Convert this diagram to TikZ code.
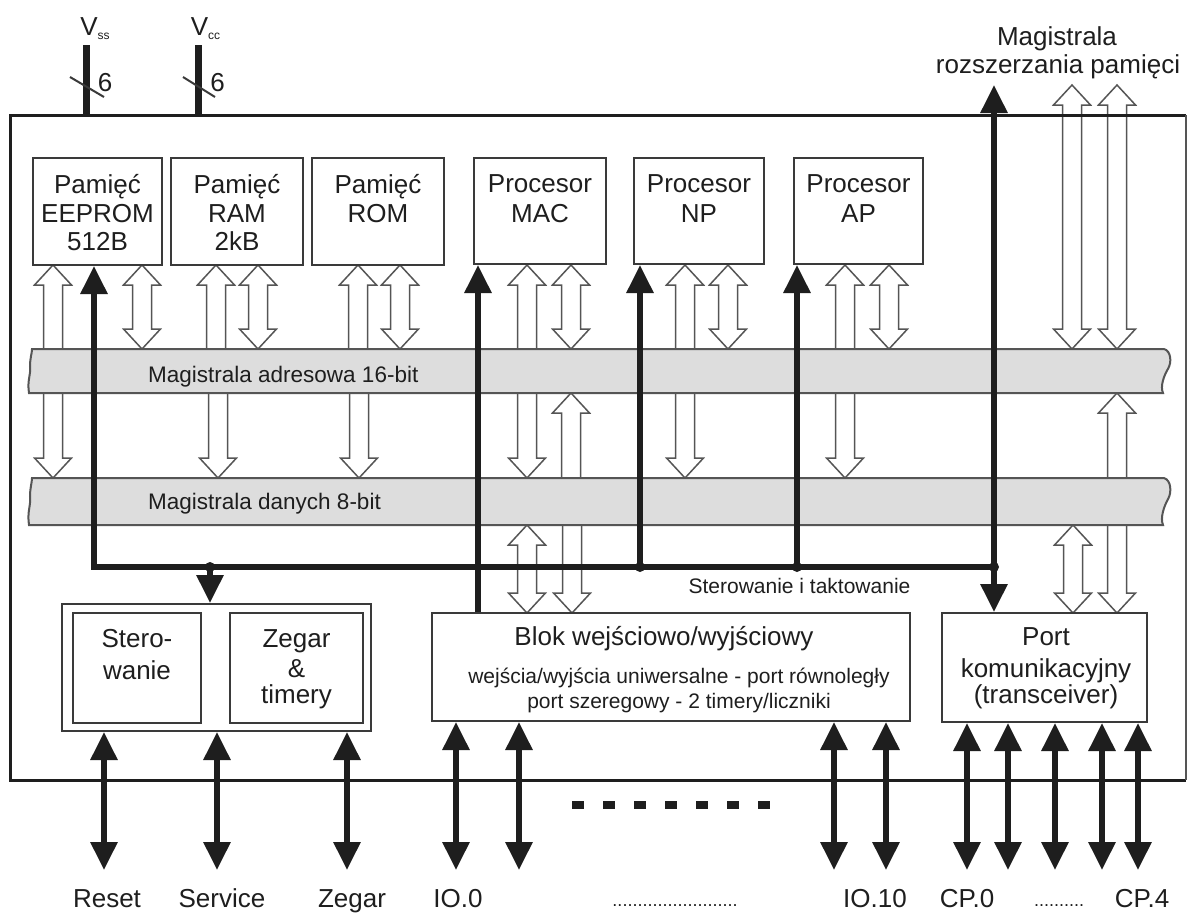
\documentclass[tikz,border=0pt]{standalone}
\usepackage{fontspec}
\setmainfont{Liberation Sans}
\usetikzlibrary{arrows.meta}
\definecolor{ink}{HTML}{1E1E1E}
\definecolor{edge}{HTML}{3A3A3A}
\definecolor{hol}{HTML}{555555}
\definecolor{busfill}{HTML}{DDDDDD}
% hollow double arrow: x, top tip, bottom tip
\newcommand\HD[3]{\draw[hollow] (#1,#2) -- (#1+18.5,#2+20) -- (#1+9.5,#2+20) -- (#1+9.5,#3-20) -- (#1+18.5,#3-20) -- (#1,#3) -- (#1-18.5,#3-20) -- (#1-9.5,#3-20) -- (#1-9.5,#2+20) -- (#1-18.5,#2+20) -- cycle;}
% hollow arrow pointing up: x, top tip, bottom (open end)
\newcommand\HU[3]{\draw[hollow] (#1,#2) -- (#1+18.5,#2+20) -- (#1+9.5,#2+20) -- (#1+9.5,#3) -- (#1-9.5,#3) -- (#1-9.5,#2+20) -- (#1-18.5,#2+20) -- cycle;}
% hollow arrow pointing down: x, top (open end), bottom tip
\newcommand\HN[3]{\draw[hollow] (#1-9.5,#2) -- (#1+9.5,#2) -- (#1+9.5,#3-20) -- (#1+18.5,#3-20) -- (#1,#3) -- (#1-18.5,#3-20) -- (#1-9.5,#3-20) -- cycle;}
% bus band: top, bottom
\newcommand\BUS[2]{\draw[busline] (32,#1) -- (1164,#1) .. controls (1171,#1+2) and (1172,{#1+0.3*(#2-#1)}) .. (1168,{#1+0.45*(#2-#1)}) .. controls (1164,{#1+0.6*(#2-#1)}) and (1160,{#1+0.85*(#2-#1)}) .. (1163,#2) -- (29,#2) .. controls (27,{#2-0.3*(#2-#1)}) and (31,{#1+0.6*(#2-#1)}) .. (30,{#1+0.4*(#2-#1)}) .. controls (30,{#1+0.2*(#2-#1)}) and (32,{#1+0.1*(#2-#1)}) .. (32,#1) -- cycle;}
\begin{document}
\begin{tikzpicture}[x=1pt,y=-1pt,
  box/.style={draw=edge, line width=2pt, fill=white, inner sep=0pt},
  hollow/.style={draw=hol, line width=1.5pt, fill=white, line join=miter},
  busline/.style={draw=hol, line width=2pt, fill=busfill},
  blk/.style={draw=ink, line width=6pt, line join=miter},
  >={Triangle[length=28pt,width=26pt]},
  t26/.style={font=\fontsize{26}{30}\selectfont, text=ink, inner sep=0pt, anchor=base},
  t22/.style={font=\fontsize{22.5}{26}\selectfont, text=ink, inner sep=0pt, anchor=base west},
  t21/.style={font=\fontsize{21}{24}\selectfont, text=ink, inner sep=0pt, anchor=base},
  tdot/.style={font=\fontsize{18}{20}\selectfont, text=ink, inner sep=0pt, anchor=base}]
\fill[white] (0,0) rectangle (1187,914);
\useasboundingbox (0,0) rectangle (1187,914);

% ---------- hollow arrows ----------
% box -> address bus
\HU{53}{265}{356}   \HD{142}{265}{349}
\HU{216}{265}{356}  \HD{258}{265}{349}
\HU{358}{265}{356}  \HD{400}{265}{349}
\HU{527}{265}{356}  \HD{571}{265}{349}
\HU{685}{265}{356}  \HD{728}{265}{349}
\HU{845}{265}{356}  \HD{889}{265}{349}
% memory expansion bus
\HD{1072}{85}{349}  \HD{1117}{85}{349}
% address bus -> data bus
\HN{53}{386}{478}  \HN{218}{386}{478}  \HN{359}{386}{478}
\HN{527}{386}{478} \HN{685}{386}{478}  \HN{845}{386}{478}
\HU{571}{393}{486}
\HD{1117}{393}{613}
% data bus -> I/O block and port
\HD{527}{525}{613}  \HN{572}{518}{613}  \HD{1073}{525}{613}

% ---------- buses ----------
\BUS{349}{393}
\BUS{478}{525}
\node[t22] (abuslbl) at (148,382) {Magistrala adresowa 16-bit};
\node[t22] (dbuslbl) at (148,509) {Magistrala danych 8-bit};

% ---------- blocks ----------
\node[box, minimum width=129, minimum height=107] (eeprom) at (97.5,211.5) {};
\node[box, minimum width=132, minimum height=107] (ram) at (237,211.5) {};
\node[box, minimum width=132, minimum height=107] (rom) at (378,211.5) {};
\node[box, minimum width=132, minimum height=106] (mac) at (540,211) {};
\node[box, minimum width=130, minimum height=106] (np) at (699,211) {};
\node[box, minimum width=129, minimum height=106] (ap) at (858.5,211) {};
\node[box, minimum width=309, minimum height=127] (ctrlblk) at (216.5,667.5) {};
\node[box, minimum width=128, minimum height=110] (stero) at (137,668) {};
\node[box, minimum width=133, minimum height=110] (zegar) at (296.5,668) {};
\node[box, minimum width=478, minimum height=108] (io) at (671,667) {};
\node[box, minimum width=205, minimum height=109] (port) at (1044.5,667.5) {};

% ---------- outer chip border ----------
\draw[draw=ink, line width=3pt] (1186,115) -- (10,115) -- (10,780) -- (1186,780);
\draw[draw=hol, line width=2pt] (1186,115) -- (1186,780);

% ---------- supply pins ----------
\coordinate (vssT) at (86,45);  \coordinate (vssB) at (86,115);
\coordinate (vccT) at (198,45); \coordinate (vccB) at (198,115);
\draw[blk, line width=7pt] (vssT) -- (vssB);
\draw[blk, line width=7pt] (vccT) -- (vccB);
\coordinate (s1a) at (70,77);  \coordinate (s1b) at (104,97);
\coordinate (s2a) at (183,77); \coordinate (s2b) at (215,97);
\draw[draw=edge, line width=2pt] (s1a) -- (s1b);
\draw[draw=edge, line width=2pt] (s2a) -- (s2b);
\node[t26] (vss) at (95,35) {V\raisebox{-4pt}{\fontsize{12}{12}\selectfont ss}};
\node[t26] (vcc) at (205.5,35) {V\raisebox{-4pt}{\fontsize{12}{12}\selectfont cc}};
\node[t26] (n6a) at (105,91) {6};
\node[t26] (n6b) at (217.5,91) {6};

% ---------- control & clock lines ----------
\coordinate (c0) at (94,567);
\coordinate (jS) at (210,567);
\coordinate (jM) at (478,567);
\coordinate (jN) at (640,567);
\coordinate (jA) at (797,567);
\coordinate (jR) at (994,567);
\coordinate (mtop) at (994,85);
\draw[blk,->] (jR) -- (c0) -- (c0 |- eeprom.south);
\draw[blk,->] (jS) -- (jS |- ctrlblk.north);
\draw[blk,->] (jM |- io.north) -- (jM |- mac.south);
\draw[blk,->] (jN) -- (jN |- np.south);
\draw[blk,->] (jA) -- (jA |- ap.south);
\draw[blk,<->] (mtop) -- (jR |- port.north);
\foreach \j in {jS,jN,jA,jR} \fill[ink] (\j) circle (5pt);
\node[t21] (ctrllbl) at (799.5,593) {Sterowanie i taktowanie};

% ---------- external pins ----------
\foreach \n/\x in {bReset/104,bService/217,bZegar/347} {
  \coordinate (\n) at (\x,870);
  \draw[blk,<->] (\n |- ctrlblk.south) -- (\n);
}
\foreach \n/\x in {bIOa/456,bIOb/519,bIOc/834,bIOd/886} {
  \coordinate (\n) at (\x,870);
  \draw[blk,<->] (\n |- io.south) -- (\n);
}
\foreach \n/\x in {bCPa/967,bCPb/1008,bCPc/1055,bCPd/1102,bCPe/1138} {
  \coordinate (\n) at (\x,870);
  \draw[blk,<->] (\n |- port.south) -- (\n);
}
\coordinate (dashL) at (572,805); \coordinate (dashR) at (778,805);
\draw[draw=ink, line width=8pt, dash pattern=on 12pt off 19pt] (dashL) -- (dashR);

% ---------- texts ----------
\node[t26] (e1) at (97.5,193) {Pamięć};
\node[t26] (e2) at (97.5,222) {EEPROM};
\node[t26] (e3) at (97.5,250) {512B};
\node[t26] (r1) at (237,193) {Pamięć};
\node[t26] (r2) at (237,222) {RAM};
\node[t26] (r3) at (237,250) {2kB};
\node[t26] (o1) at (378,193) {Pamięć};
\node[t26] (o2) at (378,222) {ROM};
\node[t26] (m1) at (540,192) {Procesor};
\node[t26] (m2) at (540,222) {MAC};
\node[t26] (p1) at (699,192) {Procesor};
\node[t26] (p2) at (699,222) {NP};
\node[t26] (a1) at (858.5,192) {Procesor};
\node[t26] (a2) at (858.5,222) {AP};
\node[t26] (s1) at (137,647) {Stero-};
\node[t26] (s2) at (137,679) {wanie};
\node[t26] (z1) at (296.5,647) {Zegar};
\node[t26] (z2) at (296.5,677) {\&};
\node[t26] (z3) at (296.5,703) {timery};
\node[t26] (i1) at (664,645) {Blok wejściowo/wyjściowy};
\node[t21] (i2) at (679,683) {wejścia/wyjścia uniwersalne - port równoległy};
\node[t21] (i3) at (679,708) {port szeregowy - 2 timery/liczniki};
\node[t26] (q1) at (1046,645) {Port};
\node[t26] (q2) at (1046,677) {komunikacyjny};
\node[t26] (q3) at (1046,703) {(transceiver)};
\node[t26] (mx1) at (1057,45) {Magistrala};
\node[t26] (mx2) at (1058,73) {rozszerzania pamięci};
\node[t26] (lReset) at (107,907) {Reset};
\node[t26] (lService) at (222,907) {Service};
\node[t26] (lZegar) at (352,907) {Zegar};
\node[t26] (lIO0) at (458,907) {IO.0};
\node[tdot] (ldots1) at (675,906) {.........................};
\node[t26] (lIO10) at (875,907) {IO.10};
\node[t26] (lCP0) at (967,907) {CP.0};
\node[tdot] (ldots2) at (1059,906) {..........};
\node[t26] (lCP4) at (1142,907) {CP.4};
\end{tikzpicture}
\end{document}
